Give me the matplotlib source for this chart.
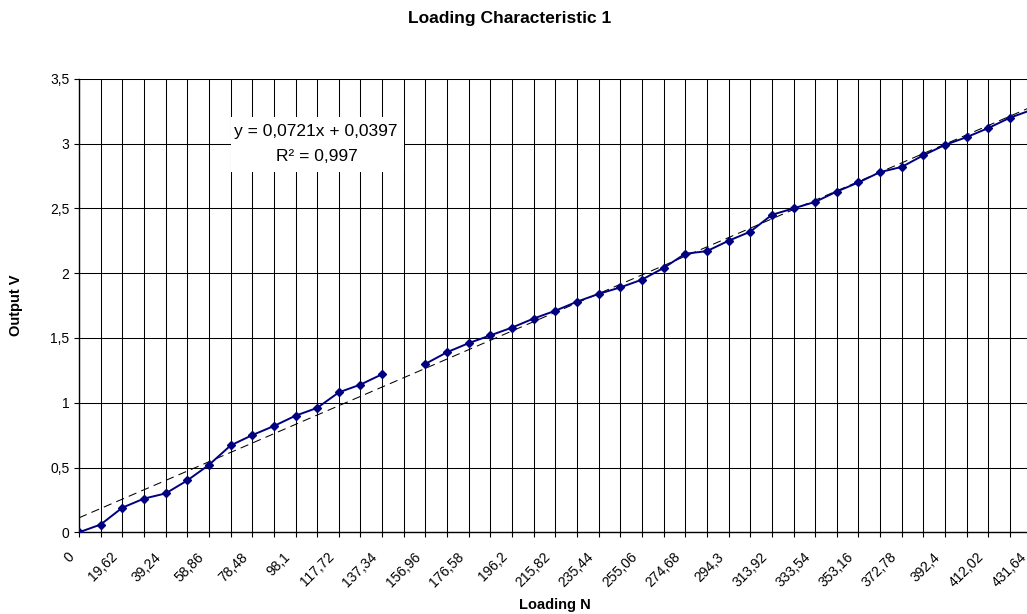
import numpy as np
import matplotlib
matplotlib.use("Agg")
import matplotlib.pyplot as plt
import matplotlib.transforms as mtransforms
from matplotlib.patches import Rectangle

plt.rcParams['font.family'] = ['Liberation Sans', 'DejaVu Sans']

# loading in N (category axis) and measured output in V
loading_n = [0, 9.81, 19.62, 29.43, 39.24, 49.05, 58.86, 68.67, 78.48, 88.29,
             98.1, 107.91, 117.72, 127.53, 137.34, 147.15, 156.96, 166.77, 176.58,
             186.39, 196.2, 206.01, 215.82, 225.63, 235.44, 245.25, 255.06, 264.87,
             274.68, 284.49, 294.3, 304.11, 313.92, 323.73, 333.54, 343.35, 353.16,
             362.97, 372.78, 382.59, 392.4, 402.21, 412.02, 421.83, 431.64]
output_v = [0.00, 0.06, 0.19, 0.26, 0.30, 0.40, 0.52, 0.67, 0.75, 0.82, 0.90,
            0.96, 1.08, 1.14, 1.22, np.nan, 1.30, 1.39, 1.46, 1.52, 1.58, 1.65,
            1.71, 1.78, 1.84, 1.89, 1.95, 2.04, 2.15, 2.17, 2.25, 2.32, 2.45,
            2.50, 2.55, 2.63, 2.70, 2.78, 2.82, 2.91, 2.99, 3.05, 3.12, 3.20, 3.26]
y_ticks = [0, 0.5, 1, 1.5, 2, 2.5, 3, 3.5]

# linear trendline as given by Excel (x = category number 1..n)
slope = 0.0721
intercept = 0.0397
r_squared = 0.997

W, H = 1027, 614
fig = plt.figure(figsize=(W / 100, H / 100), dpi=100)


def px(x, y):
    return x / W, 1 - y / H


# plot area in pixels: left 79, top 78.8, bottom 532.3, right edge runs off the image
left, top, bottom, right = 79, 78.8, 532.3, 1031.7
ax = fig.add_axes([left / W, 1 - bottom / H, (right - left) / W, (bottom - top) / H])

idx = np.arange(len(loading_n))
trend = slope * (idx + 1) + intercept

ax.plot(idx, trend, color='black', lw=0.75, ls=(0, (8, 5)), zorder=3)
ax.plot(idx, output_v, color='#000080', lw=1.4, marker='D', ms=4.2,
        mec='#000080', mfc='#000080', zorder=4)

ax.set_xlim(0, len(loading_n) - 1)
ax.set_ylim(0, 3.5)

# category ticks at every point, labels on every second one (drawn by hand so
# the rotated text can sit left of its tick like Excel does)
ax.set_xticks(idx)
ax.set_xticklabels([])
lab_tr = ax.get_xaxis_transform() + mtransforms.ScaledTranslation(
    -12 / 100, -17.5 / 100, fig.dpi_scale_trans)
for i, v in enumerate(loading_n):
    if i % 2 == 0:
        ax.text(i, 0, f"{v:g}".replace('.', ','), transform=lab_tr, rotation=45,
                ha='right', va='top', rotation_mode='anchor', fontsize=10,
                clip_on=False)

ax.set_yticks(y_ticks)
ax.set_yticklabels([f"{v:g}".replace('.', ',') for v in y_ticks], fontsize=10)

ax.tick_params(axis='x', direction='out', length=3.5, width=0.8)
ax.tick_params(axis='y', direction='out', length=3.5, width=0.8, pad=3.5)

ax.grid(True, color='black', lw=0.75)
ax.set_axisbelow(True)
for side in ['top', 'right']:
    ax.spines[side].set_visible(False)
for side in ['left', 'bottom']:
    ax.spines[side].set_color('black')
    ax.spines[side].set_linewidth(1.0)

# equation label box
bx0, by0 = px(230.7, 172.3)
bx1, by1 = px(404, 116.7)
fig.add_artist(Rectangle((bx0, by0), bx1 - bx0, by1 - by0, transform=fig.transFigure,
                         facecolor='white', edgecolor='none', zorder=5))
fig.text(*px(316, 131.7), f"y = {slope:g}x + {intercept:g}".replace('.', ','),
         ha='center', va='center', fontsize=12.5, zorder=6)
fig.text(*px(317, 156.7), f"R² = {r_squared:g}".replace('.', ','),
         ha='center', va='center', fontsize=12.5, zorder=6)

fig.text(*px(509.5, 22.7), "Loading Characteristic 1", ha='center', va='baseline',
         fontsize=12.5, fontweight='bold')
fig.text(*px(555, 609), "Loading N", ha='center', va='baseline',
         fontsize=10.5, fontweight='bold')
fig.text(*px(16, 305), "Output V", ha='center', va='center', rotation=90,
         fontsize=10.5, fontweight='bold')

fig.savefig('out.png', dpi=100)
